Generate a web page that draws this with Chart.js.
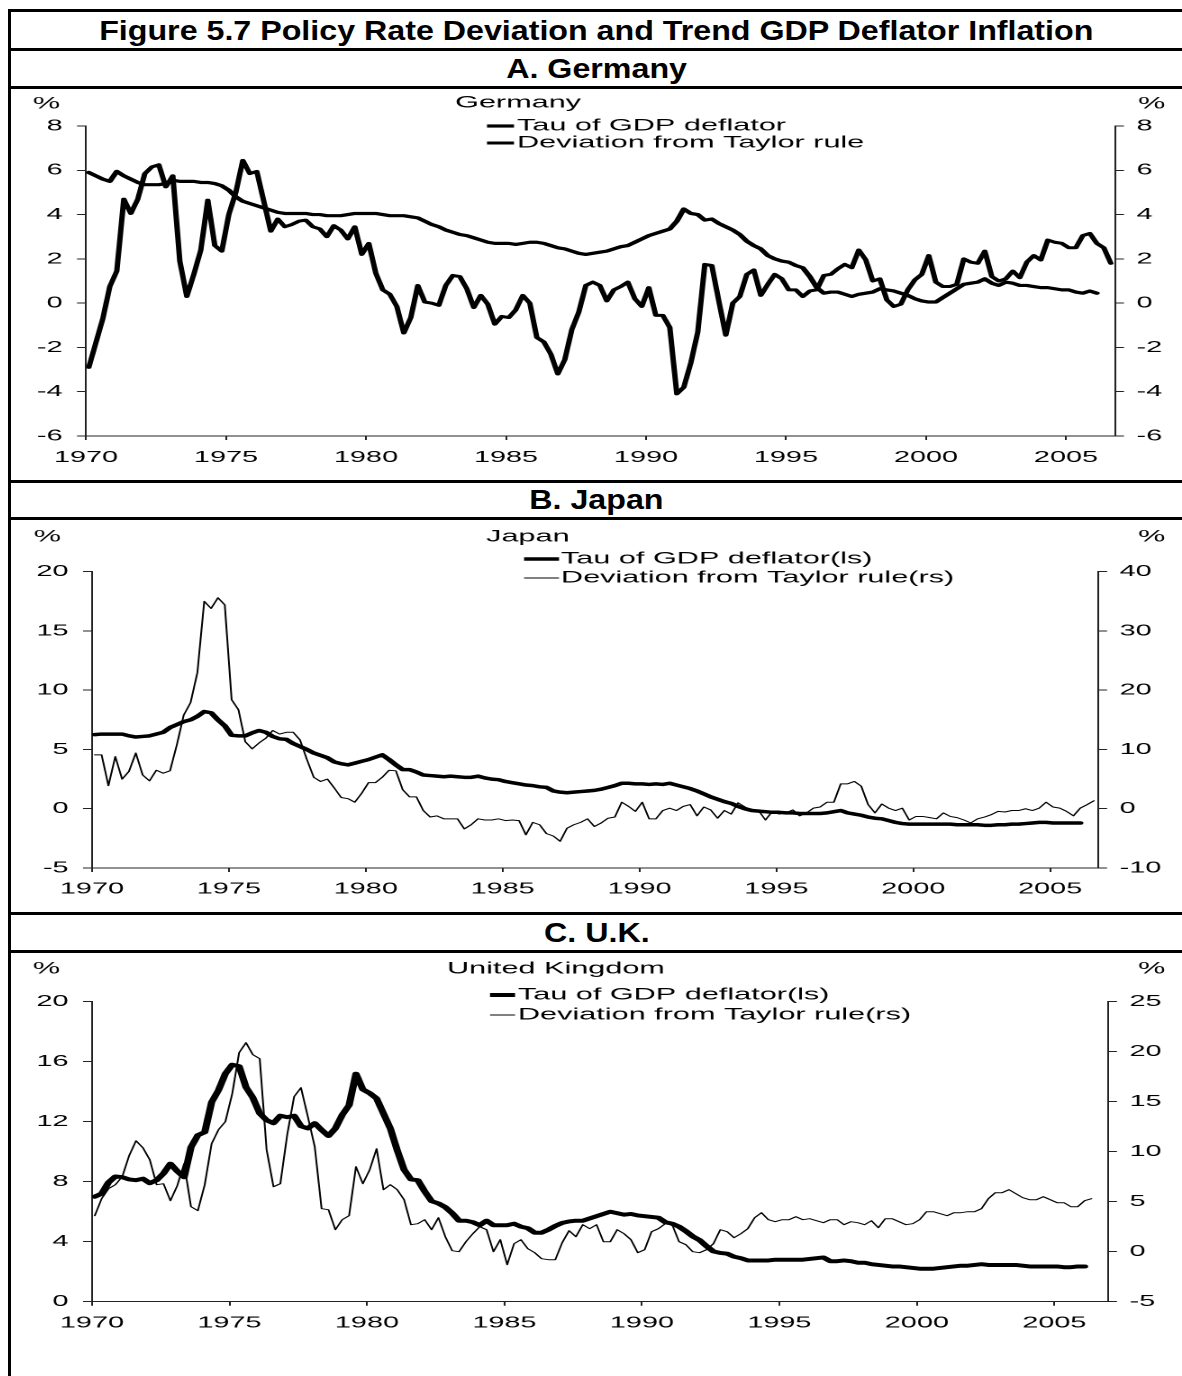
<!DOCTYPE html>
<html><head><meta charset="utf-8">
<script src="https://cdn.jsdelivr.net/npm/chart.js@4/dist/chart.umd.min.js"></script>
<style>
html,body{margin:0;padding:0;background:#fff;}
body{width:1182px;height:1376px;position:relative;overflow:hidden;font-family:"Liberation Sans",Arial,sans-serif;}
.hline{position:absolute;left:8px;width:1174px;height:3px;background:#000;z-index:5;}
.vline{position:absolute;left:8px;top:8.5px;width:3px;height:1368px;background:#000;z-index:5;}
.hdr{position:absolute;left:11px;width:1171px;text-align:center;font-weight:bold;font-size:28px;line-height:30px;color:#000;white-space:nowrap;}
.hdr span{display:inline-block;transform:scaleX(1.15);}
.panel{position:absolute;left:11px;width:650px;transform:scaleX(1.80154);transform-origin:0 0;}
</style></head>
<body>
<div class="vline"></div>
<div class="hline" style="top:8.5px"></div>
<div class="hline" style="top:47.5px"></div>
<div class="hline" style="top:85.5px"></div>
<div class="hline" style="top:479.5px"></div>
<div class="hline" style="top:516.5px"></div>
<div class="hline" style="top:911.5px"></div>
<div class="hline" style="top:949.5px"></div>
<div class="hdr" style="top:16px"><span>Figure 5.7 Policy Rate Deviation and Trend GDP Deflator Inflation</span></div>
<div class="hdr" style="top:54px"><span>A. Germany</span></div>
<div class="hdr" style="top:485px"><span>B. Japan</span></div>
<div class="hdr" style="top:918px"><span>C. U.K.</span></div>
<div class="panel" style="top:89px;height:390px"><canvas id="cDE" width="650" height="390"></canvas></div>
<div class="panel" style="top:520px;height:391px"><canvas id="cJP" width="650" height="391"></canvas></div>
<div class="panel" style="top:953px;height:423px"><canvas id="cUK" width="650" height="423"></canvas></div>
<script>
// ---------- data (quarterly, first observation 1970 Q1) ----------
const firstQuarter = 1970.1;
const quarterStep = 0.25;
const xTickYears = [1970, 1975, 1980, 1985, 1990, 1995, 2000, 2005];

const legendLabelsDE = ['Tau of GDP deflator', 'Deviation from Taylor rule'];
const legendLabelsJP = ['Tau of GDP deflator(ls)', 'Deviation from Taylor rule(rs)'];
const legendLabelsUK = ['Tau of GDP deflator(ls)', 'Deviation from Taylor rule(rs)'];

const germanyTau = [
 5.9,5.75,5.6,5.5, 5.95,5.75,5.6,5.45, 5.35,5.35,5.35,5.4, 5.55,5.5,5.5,5.5,
 5.45,5.45,5.4,5.3, 5.1,4.8,4.6,4.5, 4.4,4.3,4.2,4.1, 4.05,4.05,4.05,4.05,
 4.0,4.0,3.95,3.95, 3.95,4.0,4.05,4.05, 4.05,4.05,4.0,3.95, 3.95,3.95,3.9,3.85,
 3.7,3.55,3.45,3.3, 3.2,3.1,3.05,2.95, 2.85,2.75,2.7,2.7, 2.7,2.65,2.7,2.75,
 2.75,2.7,2.6,2.5, 2.45,2.35,2.25,2.2, 2.25,2.3,2.35,2.45, 2.55,2.6,2.75,2.9,
 3.05,3.15,3.25,3.35, 3.7,4.25,4.05,4.0, 3.75,3.8,3.6,3.45, 3.3,3.1,2.8,2.6,
 2.45,2.15,2.0,1.9, 1.85,1.7,1.6,1.2, 0.7,0.45,0.5,0.5, 0.4,0.3,0.4,0.45,
 0.5,0.65,0.6,0.55, 0.45,0.35,0.2,0.1, 0.05,0.05,0.25,0.45, 0.65,0.85,0.9,0.95,
 1.1,0.9,0.8,0.95, 0.9,0.8,0.8,0.75, 0.7,0.7,0.65,0.6, 0.6,0.5,0.45,0.55, 0.45];
const germanyDev = [
 -2.9,-1.8,-0.7,0.75, 1.45,4.7,4.05,4.7, 5.85,6.15,6.25,5.25, 5.75,1.9,0.3,1.3,
 2.4,4.65,2.6,2.35, 4.0,5.0,6.45,5.85, 5.95,4.6,3.25,3.8, 3.45,3.55,3.7,3.75,
 3.45,3.35,3.0,3.5, 3.3,2.9,3.45,2.2, 2.7,1.35,0.6,0.4, -0.15,-1.35,-0.65,0.8,
 0.05,0.0,-0.1,0.8, 1.25,1.2,0.65,-0.2, 0.35,-0.05,-0.95,-0.6, -0.65,-0.3,0.35,0.0,
 -1.55,-1.75,-2.3,-3.2, -2.55,-1.2,-0.4,0.8, 0.95,0.8,0.1,0.6, 0.75,0.95,0.2,-0.15,
 0.7,-0.55,-0.55,-1.1, -4.1,-3.8,-2.7,-1.3, 1.75,1.7,0.1,-1.45, 0.0,0.3,1.3,1.5,
 0.35,0.85,1.3,1.1, 0.6,0.6,0.3,0.55, 0.6,1.25,1.3,1.55, 1.75,1.6,2.4,1.95,
 1.0,1.1,0.15,-0.15, -0.05,0.6,1.05,1.3, 2.15,0.95,0.75,0.75, 0.85,2.0,1.85,1.8,
 2.35,1.2,1.0,1.1, 1.45,1.15,1.85,2.15, 1.95,2.85,2.75,2.7, 2.5,2.5,3.05,3.15,
 2.7,2.5,1.8];

const japanTau = [
 6.25,6.3,6.3,6.3, 6.3,6.15,6.05,6.1, 6.15,6.3,6.45,6.85, 7.1,7.35,7.5,7.8,
 8.2,8.1,7.5,7.0, 6.2,6.15,6.15,6.4, 6.6,6.45,6.1,5.9, 5.85,5.5,5.25,5.0,
 4.7,4.5,4.3,3.95, 3.8,3.7,3.85,4.0, 4.15,4.35,4.55,4.15, 3.7,3.3,3.3,3.1,
 2.85,2.8,2.75,2.7, 2.75,2.7,2.65,2.65, 2.75,2.6,2.5,2.45, 2.3,2.2,2.1,2.0,
 1.95,1.85,1.8,1.5, 1.4,1.35,1.4,1.45, 1.5,1.55,1.65,1.8, 1.95,2.15,2.15,2.1,
 2.1,2.05,2.1,2.05, 2.15,2.0,1.85,1.7, 1.5,1.25,1.0,0.8, 0.6,0.45,0.2,0.0,
 -0.15,-0.2,-0.25,-0.3, -0.3,-0.35,-0.35,-0.4, -0.4,-0.4,-0.4,-0.35, -0.25,-0.15,-0.35,-0.45,
 -0.55,-0.7,-0.8,-0.85, -1.0,-1.15,-1.25,-1.3, -1.3,-1.3,-1.3,-1.3, -1.3,-1.3,-1.35,-1.35,
 -1.35,-1.35,-1.4,-1.4, -1.35,-1.35,-1.3,-1.3, -1.25,-1.2,-1.15,-1.15, -1.2,-1.2,-1.2,-1.2, -1.2];
const japanDev = [
 9.1,9.1,3.9,8.8, 5.0,6.3,9.4,5.7, 4.7,6.5,6.0,6.4, 10.8,15.8,17.9,23.0,
 35.0,33.8,35.6,34.4, 18.4,16.7,11.3,10.1, 11.1,11.9,13.2,12.6, 12.9,12.9,11.6,8.3,
 5.3,4.6,5.0,3.5, 1.9,1.7,1.1,2.6, 4.4,4.4,5.3,6.5, 6.4,3.2,2.0,2.0,
 -0.3,-1.4,-1.2,-1.7, -1.7,-1.7,-3.4,-2.7, -1.7,-1.9,-1.9,-1.7, -2.0,-1.9,-2.0,-4.4,
 -2.3,-2.7,-4.2,-4.6, -5.5,-3.3,-2.7,-2.3, -1.7,-3.0,-2.4,-1.6, -1.4,1.1,0.4,-0.45,
 1.1,-1.7,-1.7,-0.3, 0.1,-0.3,0.4,0.7, -1.2,0.3,-0.2,-1.6, -0.3,-0.9,1.0,0.3,
 -0.3,-0.3,-1.9,-0.45, -0.9,-0.7,-0.2,-1.2, -0.7,0.1,0.3,1.1, 1.1,4.2,4.2,4.6,
 3.8,0.7,-0.7,0.8, 0.1,-0.3,0.1,-1.9, -1.3,-1.3,-1.5,-1.7, -0.7,-1.3,-1.5,-1.9,
 -2.4,-1.7,-1.4,-1.0, -0.45,-0.55,-0.3,-0.3, 0.0,-0.3,0.1,1.1, 0.3,0.1,-0.45,-1.2,
 0.1,0.7,1.35];

const ukTau = [
 7.0,7.2,7.95,8.35, 8.3,8.15,8.1,8.2, 7.9,8.1,8.55,9.2, 8.7,8.3,10.3,11.1,
 11.3,13.3,14.1,15.2, 15.8,15.7,14.3,13.6, 12.55,12.1,11.9,12.4, 12.3,12.4,11.7,11.55,
 11.9,11.45,11.05,11.55, 12.45,13.1,15.2,14.15, 13.9,13.55,12.55,11.55, 10.1,8.8,8.15,8.1,
 7.35,6.7,6.55,6.3, 5.9,5.4,5.4,5.3, 5.1,5.4,5.1,5.1, 5.1,5.2,5.0,4.9,
 4.6,4.6,4.8,5.05, 5.25,5.35,5.4,5.4, 5.55,5.7,5.85,6.0, 5.9,5.8,5.85,5.75,
 5.7,5.65,5.6,5.3, 5.2,5.0,4.7,4.35, 4.1,3.7,3.35,3.25, 3.2,3.0,2.9,2.75,
 2.75,2.75,2.75,2.8, 2.8,2.8,2.8,2.8, 2.85,2.9,2.95,2.7, 2.7,2.75,2.7,2.6,
 2.6,2.5,2.45,2.4, 2.35,2.35,2.3,2.25, 2.2,2.2,2.2,2.25, 2.3,2.35,2.4,2.4,
 2.45,2.5,2.45,2.45, 2.45,2.45,2.45,2.4, 2.35,2.35,2.35,2.35, 2.35,2.3,2.3,2.35, 2.35];
const ukDev = [
 3.6,5.3,6.3,6.7, 7.5,9.6,11.1,10.4, 9.2,6.7,6.8,5.1, 6.6,8.8,4.5,4.1,
 6.7,10.8,12.2,13.0, 15.8,19.9,20.9,19.7, 19.3,10.2,6.5,6.8, 11.7,15.5,16.4,13.5,
 10.5,4.3,4.2,2.2, 3.2,3.6,8.5,6.8, 8.2,10.3,6.2,6.7, 6.2,5.2,2.7,2.8,
 3.2,2.2,3.4,1.5, 0.1,0.0,1.0,1.8, 2.5,2.2,0.0,1.2, -1.3,0.8,1.2,0.3,
 -0.1,-0.7,-0.8,-0.8, 0.9,2.1,1.5,2.7, 2.3,2.7,1.0,1.0, 2.2,1.8,1.2,-0.1,
 0.2,2.0,2.3,2.8, 2.7,1.0,0.7,0.0, -0.1,0.2,0.8,2.2, 2.0,1.4,1.8,2.3,
 3.4,3.9,3.2,3.0, 3.2,3.2,3.5,3.2, 3.3,3.1,2.9,3.2, 3.2,2.7,3.0,2.9,
 2.7,3.1,2.4,3.3, 3.3,3.0,2.7,2.8, 3.2,4.0,4.0,3.8, 3.6,3.9,3.9,4.0,
 4.0,4.3,5.3,5.9, 5.9,6.2,5.8,5.4, 5.2,5.2,5.5,5.2, 4.9,4.9,4.5,4.5,
 5.1,5.3];

const germanyLeftTicks = [-6,-4,-2,0,2,4,6,8];
const germanyRightTicks = [-6,-4,-2,0,2,4,6,8];
const japanLeftTicks = [-5,0,5,10,15,20];
const japanRightTicks = [-10,0,10,20,30,40];
const ukLeftTicks = [0,4,8,12,16,20];
const ukRightTicks = [-5,0,5,10,15,20,25];

// ---------- rendering ----------
const FONT = '"Liberation Sans", Arial, sans-serif';
const AXIS = '#222';

function makeSeries(vals){ return vals.map((v,i)=>({x: firstQuarter + i*quarterStep, y: v})); }

const panelText = {
  id: 'panelText',
  afterDraw(chart, args, o){
    const ctx = chart.ctx;
    ctx.save();
    ctx.fillStyle = '#000';
    ctx.font = '17px ' + FONT;
    ctx.textBaseline = 'middle';
    ctx.textAlign = 'right'; ctx.fillText('%', o.pctLeftX, o.pctY);
    ctx.textAlign = 'left';  ctx.fillText('%', o.pctRightX, o.pctY);
    ctx.fillText(o.title, o.titleX, o.titleY);
    chart.data.datasets.forEach((ds, i) => {
      const y = o.legendY[i];
      ctx.strokeStyle = ds.borderColor; ctx.lineWidth = ds.borderWidth;
      ctx.beginPath(); ctx.moveTo(o.lineX0, y); ctx.lineTo(o.lineX1, y); ctx.stroke();
      ctx.fillText(ds.label, o.textX, y);
    });
    ctx.restore();
  }
};

function axisY(pos, min, max, ticksArr, width, pad){
  return {
    type:'linear', position: pos, min: min, max: max,
    afterBuildTicks: s => { s.ticks = ticksArr.map(v => ({value: v})); },
    afterFit: s => { s.width = width; },
    grid: {drawOnChartArea:false, drawTicks:true, tickLength:5, color:AXIS, lineWidth:1},
    border: {display:true, color:AXIS, width:1},
    ticks: {padding: pad, color:'#000', font:{size:16, family:FONT}, callback: v => String(v)}
  };
}

function buildChart(id, c){
  const W = 650;
  return new Chart(document.getElementById(id), {
    type: 'line',
    data: { datasets: [
      {label: c.labels[0], data: makeSeries(c.tau), borderColor:'#000', borderWidth:c.tauW, yAxisID:'y',
       pointRadius:0, tension:0, borderJoinStyle:'round', borderCapStyle:'round', fill:false},
      {label: c.labels[1], data: makeSeries(c.dev), borderColor:'#000', borderWidth:c.devW, yAxisID:c.devAxis,
       pointRadius:0, tension:0, borderJoinStyle:'round', borderCapStyle:'round', fill:false}
    ]},
    plugins: [panelText],
    options: {
      responsive:false, animation:false, devicePixelRatio:2,
      layout: {padding:{top:c.top, left:0, right:0, bottom:0}},
      plugins: {legend:{display:false}, tooltip:{enabled:false}, title:{display:false}, panelText: c.text},
      scales: {
        x: {
          type:'linear', position:'bottom', min:1970, max:c.xMax,
          afterBuildTicks: s => { s.ticks = xTickYears.map(v => ({value: v})); },
          afterFit: s => { s.height = c.H - c.bottom; },
          grid: {drawOnChartArea:false, drawTicks:true, tickLength:4, color:AXIS, lineWidth:1},
          border: {display:true, color:AXIS, width:1},
          ticks: {padding:c.xPad, color:'#000', maxRotation:0, autoSkip:false, font:{size:16, family:FONT}, callback: v => String(v)}
        },
        y: axisY('left', c.yl[0], c.yl[1], c.ylTicks, c.left, 8),
        y2: axisY('right', c.yr[0], c.yr[1], c.yrTicks, W - c.right, 7)
      }
    }
  });
}

buildChart('cDE', {
  H:390, top:37, bottom:347, left:41.63, right:612.8, xMax:2006.75, xPad:8,
  tau: germanyTau, dev: germanyDev, labels: legendLabelsDE, tauW:3.2, devW:3, devAxis:'y',
  yl:[-6,8], ylTicks: germanyLeftTicks, yr:[-6,8], yrTicks: germanyRightTicks,
  text:{pctY:15, pctLeftX:27.2, pctRightX:625.6, title:'Germany', titleX:246.5, titleY:14,
        lineX0:264.2, lineX1:279.2, textX:280.9, legendY:[37,54]}
});
buildChart('cJP', {
  H:391, top:51.7, bottom:348, left:44.96, right:603.4, xMax:2006.75, xPad:7.5,
  tau: japanTau, dev: japanDev, labels: legendLabelsJP, tauW:3.5, devW:1, devAxis:'y2',
  yl:[-5,20], ylTicks: japanLeftTicks, yr:[-10,40], yrTicks: japanRightTicks,
  text:{pctY:17, pctLeftX:27.8, pctRightX:625.6, title:'Japan', titleX:263.7, titleY:17,
        lineX0:284.8, lineX1:304.2, textX:305.3, legendY:[39,58]}
});
buildChart('cUK', {
  H:423, top:48.7, bottom:348.7, left:44.96, right:608.9, xMax:2006.95, xPad:7.7,
  tau: ukTau, dev: ukDev, labels: legendLabelsUK, tauW:4, devW:1, devAxis:'y2',
  yl:[0,20], ylTicks: ukLeftTicks, yr:[-5,25], yrTicks: ukRightTicks,
  text:{pctY:16, pctLeftX:27.2, pctRightX:625.6, title:'United Kingdom', titleX:242, titleY:16,
        lineX0:265.9, lineX1:279.8, textX:281.4, legendY:[42,62]}
});
</script>
</body></html>
